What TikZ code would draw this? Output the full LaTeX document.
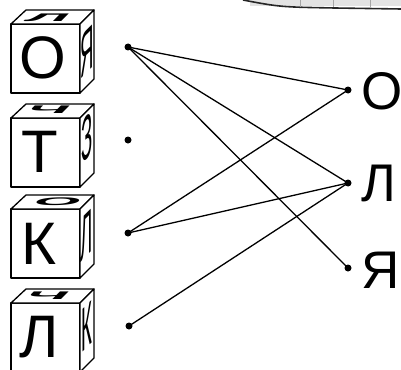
\documentclass[tikz,border=0pt]{standalone}
\usepackage{fontspec}
\setmainfont{Liberation Sans}
\begin{document}
\begin{tikzpicture}[x=1pt,y=-1pt,line join=round,
  face/.style={draw,line width=1.3pt,fill=white},
  edge/.style={line width=1.3pt},
  dot/.style={circle,fill,inner sep=0pt,minimum size=7pt},
  frontletter/.style={inner sep=0pt,font=\fontsize{60}{60}\selectfont},
  answer/.style={inner sep=0pt,anchor=west,font=\fontsize{53}{53}\selectfont},
  sideletter/.style={inner sep=0pt,transform shape,yslant=1,xscale=0.3,
    font=\fontsize{62}{62}\selectfont},
  topletter/.style={inner sep=0pt,transform shape,xslant=1,yscale=0.24,xscale=1.3,
    font=\bfseries\fontsize{46}{46}\selectfont}]
\useasboundingbox (0,0) rectangle (401,369);

% torn strip along the top edge
\fill[gray!22] (250,0) rectangle (401,6);
\draw[line width=1.6pt,black!85] (243,0) .. controls (280,7) .. (335,8) -- (401,9);
\foreach \tx in {300,333,370} \draw[gray!70,line width=0.8pt] (\tx,0) -- (\tx,7);

% a cube whose front face has its top edge at height #1
\newcommand\drawcube[1]{%
  \draw[face] (11,#1) rectangle (80,{#1+69});
  \draw[face] (11,#1) -- (26,{#1-14}) -- (94,{#1-14}) -- (80,#1) -- cycle;
  \draw[face] (80,#1) -- (94,{#1-14}) -- (94,{#1+55}) -- (80,{#1+69}) -- cycle;}

\drawcube{24}
\drawcube{118}
\drawcube{209}
\drawcube{303}

% letters on the front faces
\node[frontletter] (f1) at (43,58) {О};
\node[frontletter] (f2) at (40,152) {Т};
\node[frontletter] (f3) at (39,244) {К};
\node[frontletter] (f4) at (39,337) {Л};

% letters on the side faces
\node[sideletter] (s1) at (87,51) {Я};
\node[sideletter] (s2) at (87,138) {З};
\node[sideletter] (s3) at (87,235) {Л};
\node[sideletter] (s4) at (87,327) {К};

% letters on the top faces
\node[topletter] (t1) at (48,18) {Л};
\node[topletter] (t2) at (49,110) {Ч};
\node[topletter] (t3) at (58,202) {О};
\node[topletter] (t4) at (48,296) {Ч};

% dots beside the cubes
\node[dot] (a1) at (128,47) {};
\node[dot] (a2) at (128,140) {};
\node[dot] (a3) at (128,233) {};
\node[dot] (a4) at (129,326) {};

% dots beside the answer letters
\node[dot] (b1) at (348,90) {};
\node[dot] (b2) at (348,183) {};
\node[dot] (b3) at (348,268) {};

\node[answer] (r1) at (361,91) {О};
\node[answer] (r2) at (361,183) {Л};
\node[answer] (r3) at (361,270) {Я};

% connections
\draw[edge] (a1.center) -- (b1.center);
\draw[edge] (a1.center) -- (b2.center);
\draw[edge] (a1.center) -- (b3.center);
\draw[edge] (a3.center) -- (b1.center);
\draw[edge] (a3.center) -- (b2.center);
\draw[edge] (a4.center) -- (b2.center);
\end{tikzpicture}
\end{document}
